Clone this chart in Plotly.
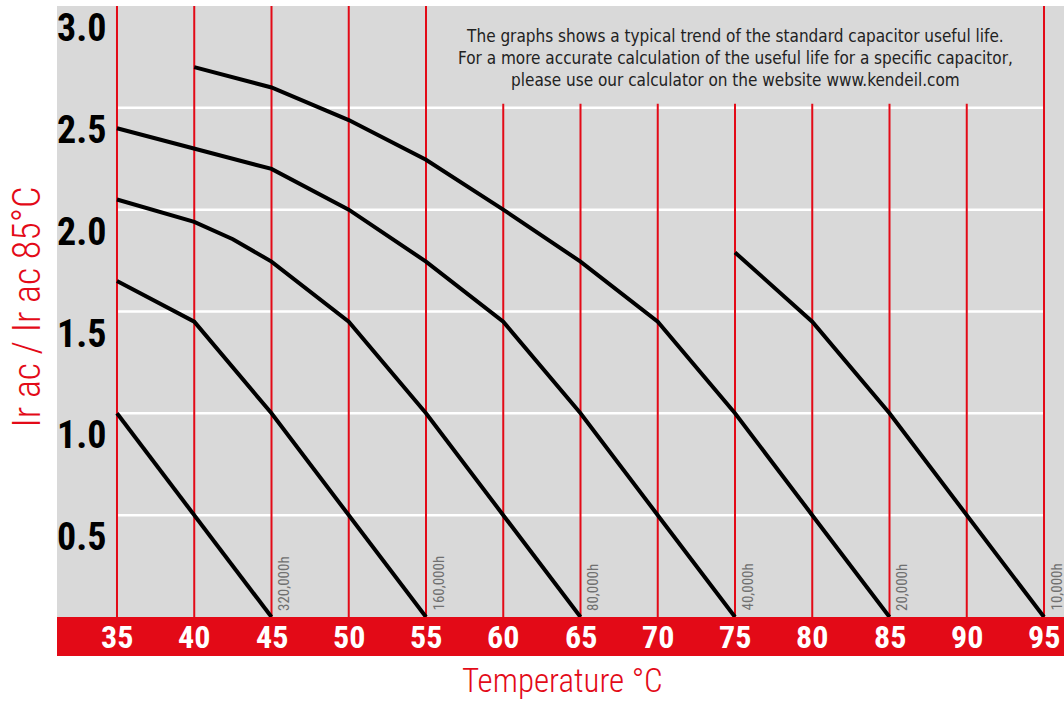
import plotly.graph_objects as go

# ---- data ----
temps_grid = [35, 40, 45, 50, 55, 60, 65, 70, 75, 80, 85, 90, 95]
y_ticks = [0.5, 1.0, 1.5, 2.0, 2.5, 3.0]
y_tick_labels = ["0.5", "1.0", "1.5", "2.0", "2.5", "3.0"]

life_labels = ["320,000h", "160,000h", "80,000h", "40,000h", "20,000h", "10,000h"]

c320_x = [35, 40, 45]
c320_y = [1.0, 0.5, 0.0]
c160_x = [35, 40, 45, 50, 55]
c160_y = [1.65, 1.45, 1.0, 0.5, 0.0]
c80_x = [35, 40, 42.5, 45, 50, 55, 60, 65]
c80_y = [2.05, 1.94, 1.855, 1.745, 1.45, 1.0, 0.5, 0.0]
c40_x = [35, 40, 45, 50, 55, 60, 65, 70, 75]
c40_y = [2.4, 2.3, 2.2, 2.0, 1.745, 1.45, 1.0, 0.5, 0.0]
c20_x = [40, 45, 50, 55, 60, 65, 70, 75, 80, 85]
c20_y = [2.7, 2.6, 2.44, 2.245, 2.0, 1.745, 1.45, 1.0, 0.5, 0.0]
c10_x = [75, 80, 85, 90, 95]
c10_y = [1.79, 1.45, 1.0, 0.5, 0.0]

curves_x = [c320_x, c160_x, c80_x, c40_x, c20_x, c10_x]
curves_y = [c320_y, c160_y, c80_y, c40_y, c20_y, c10_y]

note_text = ("The graphs shows a typical trend of the standard capacitor useful life.<br>"
             "For a more accurate calculation of the useful life for a specific capacitor,<br>"
             "please use our calculator on the website www.kendeil.com")

RED = "#e30a17"
GRAY = "#d9d9d9"
NARROW = "Roboto Condensed, Roboto, sans-serif"

fig = go.Figure()

for cx, cy in zip(curves_x, curves_y):
    fig.add_trace(go.Scatter(x=cx, y=cy, mode="lines",
                             line=dict(color="black", width=4),
                             hoverinfo="skip", showlegend=False))

shapes = []
# white horizontal gridlines
for yv in y_ticks[:-1]:
    shapes.append(dict(type="line", xref="x", yref="y", x0=35, x1=95, y0=yv, y1=yv,
                       line=dict(color="white", width=2.5), layer="below"))
# red vertical lines
for xv in temps_grid:
    shapes.append(dict(type="line", xref="x", yref="y", x0=xv, x1=xv, y0=0, y1=3.0,
                       line=dict(color=RED, width=2), layer="below"))
# note box (covers the red lines behind the text)
shapes.append(dict(type="rect", xref="x", yref="y", x0=55.12, x1=94.88, y0=2.52, y1=3.0,
                   fillcolor=GRAY, line=dict(width=0), layer="below"))
# red band under plot
shapes.append(dict(type="rect", xref="paper", yref="paper", x0=0, x1=1,
                   y0=-39 / 611, y1=0, fillcolor=RED, line=dict(width=0), layer="below"))

annotations = []
for yv, lab in zip(y_ticks, y_tick_labels):
    annotations.append(dict(x=35, y=yv, xref="x", yref="y", text=lab, showarrow=False,
                            xanchor="right", yanchor="top", xshift=-9, yshift=2,
                            font=dict(family=NARROW, size=38, color="black", weight="bold")))
for xv in temps_grid:
    annotations.append(dict(x=xv, y=0, xref="x", yref="paper", text=str(xv), showarrow=False,
                            xanchor="center", yanchor="middle", yshift=-20,
                            font=dict(family=NARROW, size=32, color="white", weight="bold")))
for cx, lab in zip(curves_x, life_labels):
    annotations.append(dict(x=cx[-1], y=0, xref="x", yref="y", text=lab, showarrow=False,
                            textangle=-90, xanchor="left", yanchor="bottom", xshift=1, yshift=4,
                            font=dict(family=NARROW, size=15, color="#707070")))
annotations.append(dict(x=75, y=2.745, xref="x", yref="y", text=note_text, showarrow=False,
                        xanchor="center", yanchor="middle", align="center",
                        font=dict(family="DejaVu Sans Condensed, DejaVu Sans, sans-serif",
                                  size=17, color="#222222")))
annotations.append(dict(x=-30 / 1007, y=1.52, xref="paper", yref="y",
                        text="Ir ac / Ir ac 85°C", showarrow=False, textangle=-90,
                        xanchor="center", yanchor="middle",
                        font=dict(family=NARROW, size=38, color=RED, weight=300)))
annotations.append(dict(x=0.502, y=-63 / 611, xref="paper", yref="paper",
                        text="Temperature °C", showarrow=False,
                        xanchor="center", yanchor="middle",
                        font=dict(family=NARROW, size=33, color=RED, weight=300)))

fig.update_layout(
    width=1064, height=701,
    margin=dict(l=57, r=0, t=6, b=84),
    paper_bgcolor="white", plot_bgcolor=GRAY,
    xaxis=dict(range=[31.117, 96.294], showgrid=False, zeroline=False,
               showticklabels=False, ticks="", fixedrange=True),
    yaxis=dict(range=[0, 3.0], showgrid=False, zeroline=False,
               showticklabels=False, ticks="", fixedrange=True),
    shapes=shapes, annotations=annotations, showlegend=False,
)

fig.write_html("out.html", config={"displayModeBar": False},
               post_script="document.body.style.margin='0';document.body.style.overflow='hidden';")
